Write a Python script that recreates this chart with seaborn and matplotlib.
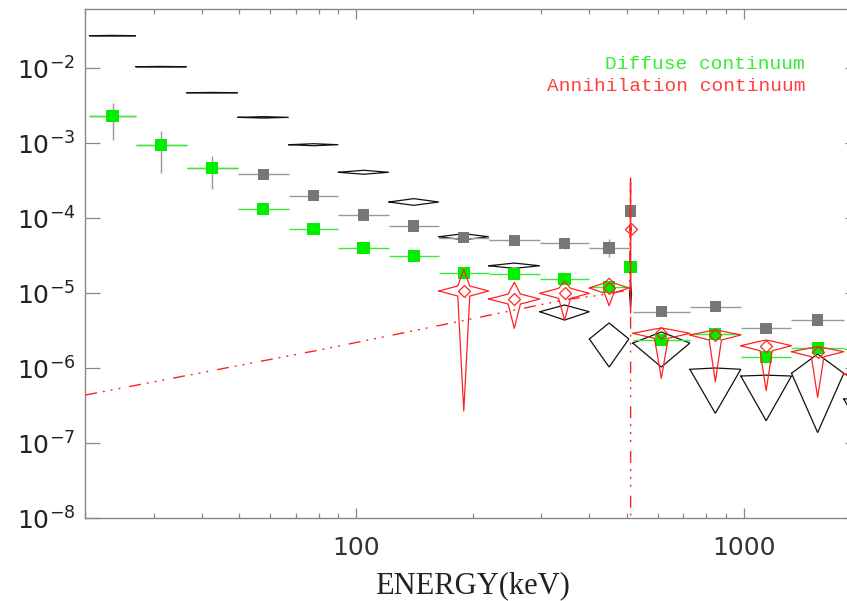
import numpy as np
import matplotlib
matplotlib.use("Agg")
import matplotlib.pyplot as plt
import seaborn as sns
import pandas as pd
from matplotlib.ticker import NullLocator, NullFormatter

# energy bins (keV)
e_lo = [20.5, 27, 36.5, 49.5, 67, 90, 121.5, 163.5, 220, 298, 400, 508, 518, 727, 984, 1330, 1815]
e_hi = [27, 36.5, 49.5, 67, 90, 121.5, 163.5, 220, 298, 400, 506, 514, 727, 984, 1330, 1815, 2460]

# black diamonds (total / model envelope)
black_val = [2.72e-2, 1.05e-2, 4.73e-3, 2.22e-3, 9.58e-4, 4.11e-4, 1.65e-4, 5.68e-5, 2.33e-5,
             5.68e-6, 2.46e-6, 9.79e-6, 2.17e-6, 9.70e-7, 7.89e-7, 8.58e-7, 3.90e-7]
black_lo = [2.69e-2, 1.04e-2, 4.69e-3, 2.17e-3, 9.29e-4, 3.87e-4, 1.49e-4, 5.18e-5, 2.15e-5,
            4.40e-6, 1.04e-6, 6.57e-6, 1.04e-6, 2.51e-7, 2.00e-7, 1.39e-7, 1.00e-7]
black_hi = [2.75e-2, 1.06e-2, 4.77e-3, 2.27e-3, 9.88e-4, 4.37e-4, 1.83e-4, 6.23e-5, 2.53e-5,
            6.98e-6, 4.02e-6, 1.41e-5, 3.05e-6, 1.01e-6, 8.10e-7, 1.55e-6, 4.00e-7]

# grey squares (total measured)
gray_val = [2.29e-3, 9.49e-4, 4.64e-4, 3.86e-4, 2.01e-4, 1.107e-4, 7.89e-5, 5.51e-5, 5.09e-5,
            4.64e-5, 4.02e-5, 1.25e-4, 5.68e-6, 6.63e-6, 3.41e-6, 4.41e-6, np.nan]
gray_lo = [1.107e-3, 4.06e-4, 2.46e-4, 3.35e-4, 1.85e-4, 1.02e-4, 7.3e-5, 4.9e-5, 4.55e-5,
           3.9e-5, 3.03e-5, 1.15e-4, 5.2e-6, 6.1e-6, 3.1e-6, 4.0e-6, np.nan]
gray_hi = [3.47e-3, 1.47e-3, 6.84e-4, 4.3e-4, 2.18e-4, 1.2e-4, 8.5e-5, 6.2e-5, 5.7e-5,
           5.3e-5, 5.3e-5, 1.37e-4, 6.2e-6, 7.2e-6, 3.7e-6, 4.8e-6, np.nan]

# green squares (diffuse continuum)
green_val = [2.29e-3, 9.49e-4, 4.64e-4, 1.318e-4, 7.13e-5, 4.02e-5, 3.17e-5, 1.877e-5, 1.79e-5,
             1.54e-5, 1.225e-5, 2.22e-5, 2.38e-6, 2.87e-6, 1.43e-6, 1.85e-6, 1.81e-6]

# red stars (annihilation continuum)
red_val = [np.nan] * 7 + [1.073e-5, 8.39e-6, 1.0e-5, 1.177e-5, 7.2e-5, 2.93e-6, 2.78e-6,
                          2.0e-6, 1.665e-6, 8.3e-7]
red_lo = [np.nan] * 7 + [2.70e-7, 3.41e-6, 4.37e-6, 6.83e-6, 5.46e-6, 7.36e-7, 6.63e-7,
                         5.03e-7, 4.1e-7, 2.0e-7]
red_hi = [np.nan] * 7 + [2.09e-5, 1.40e-5, 1.445e-5, 1.585e-5, 3.44e-4, 3.44e-6, 3.24e-6,
                         2.38e-6, 1.94e-6, 9.7e-7]

# ortho-positronium + 511 keV line model
model_e = [20, 82, 350, 418, 508, 511, 511.5]
model_f = [4.4e-7, 1.79e-6, 8.3e-6, 9.3e-6, 1.11e-5, 3.44e-4, 1e-10]

x_ticks = [100, 1000]
x_labels = ["100", "1000"]
y_ticks = [1e-8, 1e-7, 1e-6, 1e-5, 1e-4, 1e-3, 1e-2]
y_labels = [r"$10^{-8}$", r"$10^{-7}$", r"$10^{-6}$", r"$10^{-5}$",
            r"$10^{-4}$", r"$10^{-3}$", r"$10^{-2}$"]

df = pd.DataFrame({"lo": e_lo, "hi": e_hi,
                   "black": black_val, "black_lo": black_lo, "black_hi": black_hi,
                   "gray": gray_val, "gray_lo": gray_lo, "gray_hi": gray_hi,
                   "green": green_val,
                   "red": red_val, "red_lo": red_lo, "red_hi": red_hi})
df["E"] = np.sqrt(df["lo"] * df["hi"])

sns.set_style("ticks")
plt.rcParams["font.family"] = ["DejaVu Sans"]

fig = plt.figure(figsize=(8.47, 6.01), dpi=100)
ax = fig.add_axes([0.1007, 0.1376, 0.9148, 0.8469])
ax.set_xscale("log")
ax.set_yscale("log")

# black diamonds
for _, r in df.iterrows():
    ax.plot([r.lo, r.E, r.hi, r.E, r.lo],
            [r.black, r.black_hi, r.black, r.black_lo, r.black],
            color="#111111", lw=0.9, zorder=2, solid_joinstyle="miter")

# grey error bars + squares
g = df.dropna(subset=["gray"])
ax.hlines(g["gray"], g["lo"], g["hi"], color="#999999", lw=1.0, zorder=3)
ax.vlines(g["E"], g["gray_lo"], g["gray_hi"], color="#999999", lw=1.0, zorder=3)
sns.scatterplot(data=g, x="E", y="gray", marker="s", s=66, color="#777777",
                edgecolor="none", ax=ax, zorder=4)

# green bars + squares
ax.hlines(df["green"], df["lo"], df["hi"], color="#33ee33", lw=1.0, zorder=5)
sns.scatterplot(data=df, x="E", y="green", marker="s", s=78, color="#00ee00",
                edgecolor="none", ax=ax, zorder=6)

# red four-point stars
rd = df.dropna(subset=["red"])
for _, r in rd.iterrows():
    lx0, lx1, lxc = np.log10([r.lo, r.hi, r.E])
    ly, lylo, lyhi = np.log10([r.red, r.red_lo, r.red_hi])
    ix = 0.24 * (lx1 - lx0) / 2
    iu = min(0.067, 0.8 * (lyhi - ly))
    idn = min(0.067, 0.8 * (ly - lylo))
    pts = np.array([(lx0, ly), (lxc - ix, ly + iu), (lxc, lyhi), (lxc + ix, ly + iu),
                    (lx1, ly), (lxc + ix, ly - idn), (lxc, lylo), (lxc - ix, ly - idn),
                    (lx0, ly)])
    ax.plot(10 ** pts[:, 0], 10 ** pts[:, 1], color="#ff2222", lw=0.9, zorder=7)
ax.plot(rd["E"], rd["red"], ls="none", marker="D", ms=6.5, mfc="none",
        mec="#ff2222", mew=0.9, zorder=8)

# model line
ax.plot(model_e, model_f, color="#ff2222", lw=1.0, zorder=9,
        ls=(0, (8.6, 4.3, 1.4, 4.3, 1.4, 4.3, 1.4, 6.5)))

ax.text(0.929, 0.8906, "Diffuse continuum", transform=ax.transAxes, ha="right",
        va="center", fontsize=14, family="Liberation Mono", color="#33ee33")
ax.text(0.929, 0.848, "Annihilation continuum", transform=ax.transAxes, ha="right",
        va="center", fontsize=14, family="Liberation Mono", color="#ff4040")

ax.set_xlim(20, 2000)
ax.set_ylim(1e-8, 0.0612)
ax.set_xticks(x_ticks, labels=x_labels)
ax.xaxis.set_minor_formatter(NullFormatter())
ax.set_yticks(y_ticks, labels=y_labels)
ax.yaxis.set_minor_locator(NullLocator())

ax.tick_params(axis="x", which="major", direction="in", length=7.2, width=0.9,
               color="#888888", top=True, labelsize=18, pad=13, labelcolor="#333333")
ax.tick_params(axis="x", which="minor", direction="in", length=3.6, width=0.9,
               color="#888888", top=True)
ax.tick_params(axis="y", which="major", direction="in", length=10.8, width=0.9,
               color="#888888", right=True, labelsize=18, pad=7, labelcolor="#222222")
for s in ax.spines.values():
    s.set_color("#888888")
    s.set_linewidth(1.0)

ax.set_xlabel("ENERGY(keV)", fontsize=22, family="Liberation Serif", color="#222222",
              labelpad=8)
ax.set_ylabel("")

fig.savefig("out.png", dpi=100)
